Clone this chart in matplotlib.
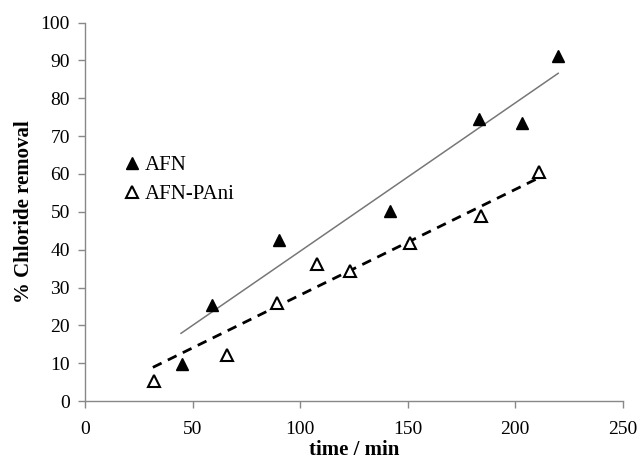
import numpy as np
import matplotlib
matplotlib.use("Agg")
import matplotlib.pyplot as plt

plt.rcParams['font.family'] = ['Liberation Serif', 'DejaVu Serif']

afn_t = [45, 59, 90, 142, 183, 203, 220]
afn_y = [9.7, 25.3, 42.6, 50.3, 74.6, 73.6, 91.2]
pani_t = [32, 66, 89, 108, 123, 151, 184, 211]
pani_y = [5.4, 12.1, 26.0, 36.3, 34.4, 41.7, 48.9, 60.5]

# trend lines (end points)
afn_fit_t = [44.6, 220]
afn_fit_y = [17.9, 86.6]
pani_fit_t = [31.5, 210]
pani_fit_y = [8.9, 58.7]

fig = plt.figure(figsize=(6.4, 4.61), dpi=100)
ax = fig.add_axes([0.133, 0.130, 0.840, 0.821])

ax.plot(afn_fit_t, afn_fit_y, color='#777777', lw=1.1, ls='-', zorder=2)
ax.plot(pani_fit_t, pani_fit_y, color='black', lw=2.0, ls=(0, (3.5, 2.5)), zorder=2)

ax.plot(afn_t, afn_y, ls='none', marker='^', ms=9, mfc='black', mec='black',
        label='AFN', zorder=3)
ax.plot(pani_t, pani_y, ls='none', marker='^', ms=8, mfc='white', mec='black',
        mew=1.5, label='AFN-PAni', zorder=3)

ax.set_xlim(0, 250)
ax.set_ylim(0, 100)
ax.set_xticks(range(0, 251, 50))
ax.set_yticks(range(0, 101, 10))
for s in ['top', 'right']:
    ax.spines[s].set_visible(False)
for s in ['left', 'bottom']:
    ax.spines[s].set_color('#888888')
    ax.spines[s].set_linewidth(1.0)
ax.tick_params(axis='both', colors='#888888', labelcolor='black', labelsize=14,
               length=5, width=1.0, direction='out')
ax.tick_params(axis='x', pad=9)
ax.tick_params(axis='y', pad=6)
ax.set_xlabel('time / min', fontsize=15, fontweight='bold', labelpad=2)
ax.set_ylabel('% Chloride removal', fontsize=15, fontweight='bold', labelpad=5)

ax.legend(loc='upper left', bbox_to_anchor=(0.06, 0.67), frameon=False,
          fontsize=15, handlelength=0.6, handletextpad=0.3, labelspacing=0.45,
          borderaxespad=0)

fig.savefig('out.png', dpi=100)
